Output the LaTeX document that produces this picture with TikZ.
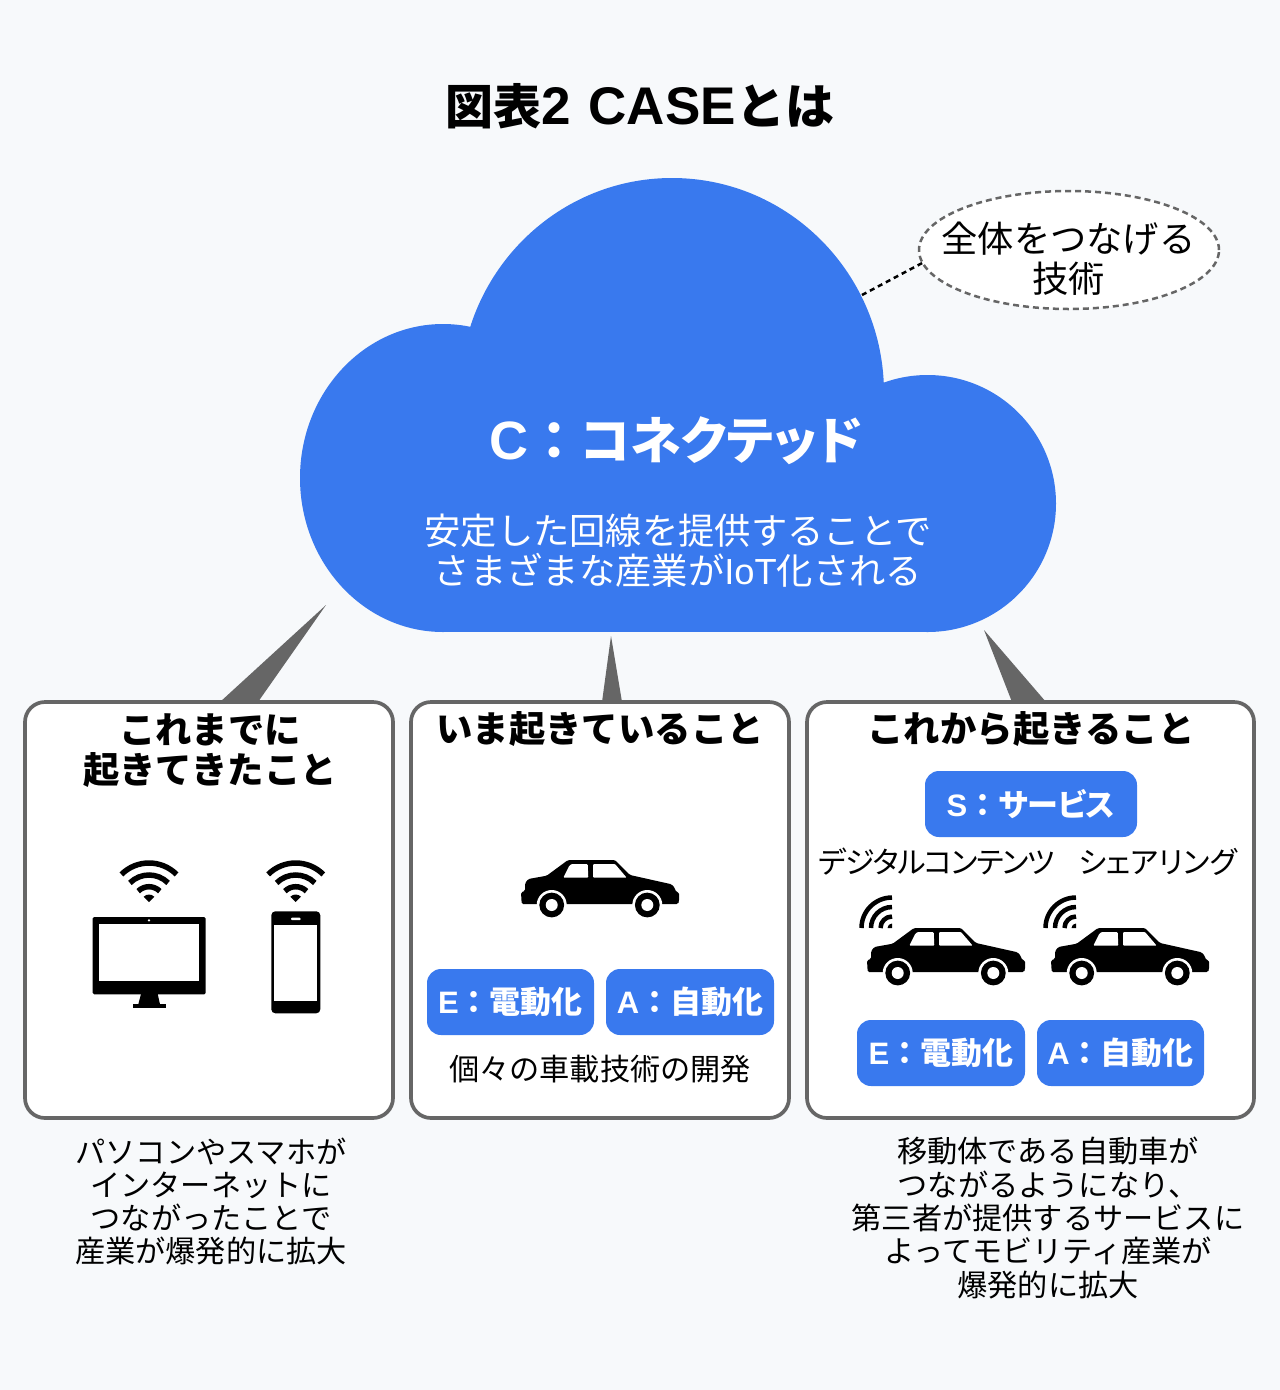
\documentclass[tikz,border=0pt]{standalone}
\usepackage{fontspec}
\usetikzlibrary{shapes.geometric}
\setmainfont{Liberation Sans}
\newfontfamily\jp{Noto Sans CJK JP}
\newfontfamily\jpp[RawFeature=+palt]{Noto Sans CJK JP}
\newfontfamily\jptight[RawFeature=+palt,LetterSpace=-4.5]{Noto Sans CJK JP}
\newfontfamily\lat{Liberation Sans}
\definecolor{bgc}{HTML}{F7F9FB}
\definecolor{bluec}{HTML}{3979EE}
\definecolor{grayc}{HTML}{666666}
\tikzset{
  panel/.style={draw=grayc,line width=3.7pt,fill=white,rounded corners=20pt,anchor=north west,inner sep=0pt,outer sep=0pt},
  chip/.style={fill=bluec,rounded corners=14pt,anchor=north west,inner sep=0pt,outer sep=0pt},
  chiptext/.style={inner sep=0pt,text=white,font=\fontsize{31}{34}\selectfont\bfseries},
  boxtitle/.style={align=center,inner sep=0pt,font=\fontsize{36.4}{40}\selectfont\bfseries\jp},
  body/.style={align=center,inner sep=0pt,font=\fontsize{30.2}{33.3}\selectfont\jp},
  wedge/.style={fill=grayc},
  wifi/.pic={\begin{scope}[x=1pt,y=1pt]
    \draw[line width=5.5pt] (45:39) arc[start angle=45,end angle=135,radius=39];
    \draw[line width=5.5pt] (45:27) arc[start angle=45,end angle=135,radius=27];
    \draw[line width=5.5pt] (45:15.3) arc[start angle=45,end angle=135,radius=15.3];
    \fill (0,0) -- (45:7.5) arc[start angle=45,end angle=135,radius=7.5] -- cycle;
  \end{scope}},
  cornerwifi/.pic={\begin{scope}[x=1pt,y=1pt]
    \draw[line width=4.5pt] (90:30.5) arc[start angle=90,end angle=180,radius=30.5];
    \draw[line width=4.5pt] (90:21) arc[start angle=90,end angle=180,radius=21];
    \draw[line width=4.5pt] (90:11.5) arc[start angle=90,end angle=180,radius=11.5];
    \fill (0,0) -- (90:4.5) arc[start angle=90,end angle=180,radius=4.5] -- cycle;
  \end{scope}},
  carpic/.pic={\begin{scope}[x=1pt,y=-1pt]
    \fill[rounded corners=1.5pt] (47,0) -- (94,0) -- (109,15) -- (150.7,24.3) -- (154,28.3) -- (154.7,31.7) -- (158,32.3) -- (158,41.7) -- (157,44) -- (0.7,44) -- (0,32.3) -- (4,31) -- (4,23.3) -- (7.3,19) -- (25.7,15.7) -- cycle;
    \fill[white,rounded corners=1pt] (42.3,17.7) -- (48.3,5.7) -- (50.7,4) -- (66.7,4) -- (67.3,17.7) -- cycle;
    \fill[white,rounded corners=1pt] (72,4) -- (94,4) -- (105.7,17.7) -- (72,17.7) -- cycle;
    \foreach \wx in {30.7,126.3}{
      \fill[white] (\wx,45) circle[radius=15pt];
      \fill (\wx,45) circle[radius=12.4pt];
      \fill[white] (\wx,45) circle[radius=6pt];
    }
  \end{scope}},
}
\begin{document}
\begin{tikzpicture}[x=1pt,y=-1pt]
\useasboundingbox (0,0) rectangle (1280,1390);
\fill[bgc] (0,0) rectangle (1280,1390);

% title
\node[inner sep=0pt,font=\bfseries] (title) at (640,106.5) {\fontsize{48}{54}\selectfont\jpp 図表\fontsize{53}{54}\selectfont\lat 2 \hspace{3.5pt}CASE\hspace{1pt}\fontsize{49}{54}\selectfont\jp とは};

% cloud
\fill[bluec] (672,393) ellipse[x radius=212pt,y radius=215pt];
\fill[bluec] (443,478) ellipse[x radius=143pt,y radius=154pt];
\fill[bluec] (927.5,503.5) circle[radius=128.5pt];
\fill[bluec] (443,430) rectangle (928,632);
\coordinate (cloudedge) at (862,295);

% callout
\node[ellipse,draw=grayc,dash pattern=on 6pt off 4pt,line width=2.5pt,fill=white,minimum width=300pt,minimum height=118pt,inner sep=0pt,outer sep=0pt] (bubble) at (1069,250) {};
\draw[dash pattern=on 5pt off 4pt,line width=2.5pt] (cloudedge) -- (bubble.185);
\node[align=center,inner sep=0pt,font=\fontsize{36.3}{40}\selectfont\jp] (bubbletext) at (1068.5,259) {全体をつなげる\\技術};

% cloud text
\node[inner sep=0pt,text=white,font=\bfseries] (ctitle) at (676,440.5) {\fontsize{54}{56}\selectfont\lat C\fontsize{52}{56}\selectfont\jp ：\fontsize{51}{56}\selectfont\jpp コネクテッド};
\node[align=center,inner sep=0pt,text=white,font=\fontsize{36.3}{40}\selectfont] (csub) at (678,550.5) {\jp 安定した回線を提供することで\\\jp さまざまな産業が\lat IoT\jp 化される};

% wedges
\coordinate (tipa) at (326,605);
\coordinate (tipb) at (611,636);
\coordinate (tipc) at (984,630);
\coordinate (basea1) at (220,702);
\coordinate (basea2) at (258,702);
\coordinate (baseb1) at (602,702);
\coordinate (baseb2) at (622,702);
\coordinate (basec1) at (1012,702);
\coordinate (basec2) at (1046,702);
\fill[wedge] (tipa) -- (basea1) -- (basea2) -- cycle;
\fill[wedge] (tipb) -- (baseb1) -- (baseb2) -- cycle;
\fill[wedge] (tipc) -- (basec1) -- (basec2) -- cycle;

% panels
\node[panel,minimum width=368pt,minimum height=416pt] (boxa) at (25,702) {};
\node[panel,minimum width=378pt,minimum height=416pt] (boxb) at (411,702) {};
\node[panel,minimum width=447pt,minimum height=416pt] (boxc) at (807,702) {};

\node[boxtitle] (ta) at (210,751) {これまでに\\起きてきたこと};
\node[boxtitle] (tb) at (600,729) {いま起きていること};
\node[boxtitle] (tc) at (1031,729) {これから起きること};

% panel A icons
\pic at (149,902) {wifi};
\pic at (295.7,902) {wifi};
\fill[rounded corners=1.5pt] (92.7,917) rectangle (205.7,994.3);
\fill[white] (99.3,924.3) rectangle (199.3,981.3);
\fill[white] (149,920.3) circle[radius=1.3pt];
\fill (141,994) -- (157.7,994) -- (160,1004.3) -- (138.3,1004.3) -- cycle;
\fill (133,1004.3) rectangle (165.7,1008.3);
\fill[rounded corners=4pt] (271.3,911.3) rectangle (320.3,1013.3);
\fill[white] (274.3,925.3) rectangle (317.3,1001.3);
\fill[white,rounded corners=1pt] (291,917.7) rectangle (300.7,920.2);

% panel B
\pic at (521,860) {carpic};
\node[chip,minimum width=167pt,minimum height=66pt] (eb) at (427,969) {};
\node[chip,minimum width=168pt,minimum height=66pt] (ab) at (606,969) {};
\node[chiptext] (ebt) at (eb.center) {\lat E\jp ：\jpp 電動化};
\node[chiptext] (abt) at (ab.center) {\lat A\jp ：\jpp 自動化};
\node[body] (nb) at (600,1069) {個々の車載技術の開発};

% panel C
\node[chip,minimum width=212pt,minimum height=66pt] (sc) at (925,771) {};
\node[chiptext] (sct) at (sc.center) {\lat S\jp ：\jpp サービス};
\node[inner sep=0pt,font=\fontsize{30}{33}\selectfont\jptight] (ndc) at (937,862) {デジタルコンテンツ};
\node[inner sep=0pt,font=\fontsize{30}{33}\selectfont\jpp] (nsh) at (1158,862) {シェアリング};
\pic at (892,928) {cornerwifi};
\pic at (1076,928) {cornerwifi};
\pic at (867,928) {carpic};
\pic at (1051,928) {carpic};
\node[chip,minimum width=168pt,minimum height=66pt] (ec) at (857,1020) {};
\node[chip,minimum width=167pt,minimum height=66pt] (ac) at (1037,1020) {};
\node[chiptext] (ect) at (ec.center) {\lat E\jp ：\jpp 電動化};
\node[chiptext] (act) at (ac.center) {\lat A\jp ：\jpp 自動化};

% captions
\node[body] (capa) at (211,1201.5) {パソコンやスマホが\\インターネットに\\つながったことで\\産業が爆発的に拡大};
\node[body] (capc) at (1048,1218) {移動体である自動車が\\つながるようになり、\\第三者が提供するサービスに\\よってモビリティ産業が\\爆発的に拡大};
\end{tikzpicture}
\end{document}
